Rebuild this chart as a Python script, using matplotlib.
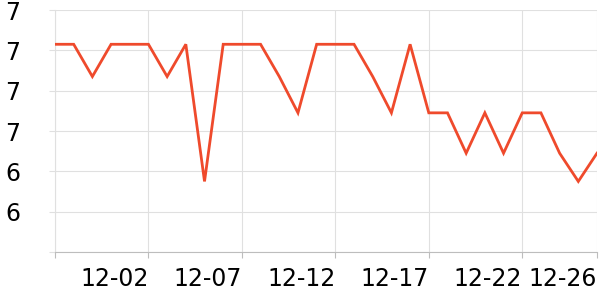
import matplotlib
matplotlib.use("Agg")
from matplotlib import pyplot as plt

# daily values, 11-27 .. 12-26
dates = ["11-27", "11-28", "11-29", "11-30", "12-01", "12-02", "12-03", "12-04",
         "12-05", "12-06", "12-07", "12-08", "12-09", "12-10", "12-11", "12-12",
         "12-13", "12-14", "12-15", "12-16", "12-17", "12-18", "12-19", "12-20",
         "12-21", "12-22", "12-23", "12-24", "12-25", "12-26"]
values = [7.03, 7.03, 6.87, 7.03, 7.03, 7.03, 6.87, 7.03, 6.35, 7.03,
          7.03, 7.03, 6.87, 6.69, 7.03, 7.03, 7.03, 6.87, 6.69, 7.03,
          6.69, 6.69, 6.49, 6.69, 6.49, 6.69, 6.69, 6.49, 6.35, 6.49]
label_idx = [0, 5, 10, 15, 20, 25, 29]
yticks = [6.0, 6.2, 6.4, 6.6, 6.8, 7.0, 7.2]

grid_c = "#e0e0e0"
axis_c = "#bdbdbd"
line_c = "#ef4a2c"

fig = plt.figure(figsize=(6, 3), dpi=100)
ax = fig.add_axes([55 / 600, 48 / 300, 542 / 600, 242 / 300])

x = list(range(len(values)))
ax.plot(x, values, color=line_c, lw=2.0, solid_joinstyle="miter", zorder=3)

ax.set_xlim(0, len(values) - 1)
ax.set_ylim(yticks[0], yticks[-1])

ax.set_xticks(label_idx)
ax.set_xticklabels([""] + [dates[i] for i in label_idx[1:]], ha="right")
ax.set_yticks(yticks)
ax.set_yticklabels([""] + [f"{v:.0f}" for v in yticks[1:]])

ax.grid(True, color=grid_c, lw=0.8)
ax.set_axisbelow(True)
for s in ["top", "right"]:
    ax.spines[s].set_visible(False)
ax.spines["left"].set_color(grid_c)
ax.spines["left"].set_linewidth(0.8)
ax.spines["bottom"].set_color(axis_c)
ax.spines["bottom"].set_linewidth(0.8)

ax.tick_params(axis="x", colors=axis_c, length=4, width=0.8, pad=6.5,
               labelsize=17, labelcolor="black")
ax.tick_params(axis="y", colors=grid_c, length=4, width=0.8, pad=21,
               labelsize=17, labelcolor="black")

fig.savefig("out.png", dpi=100)
